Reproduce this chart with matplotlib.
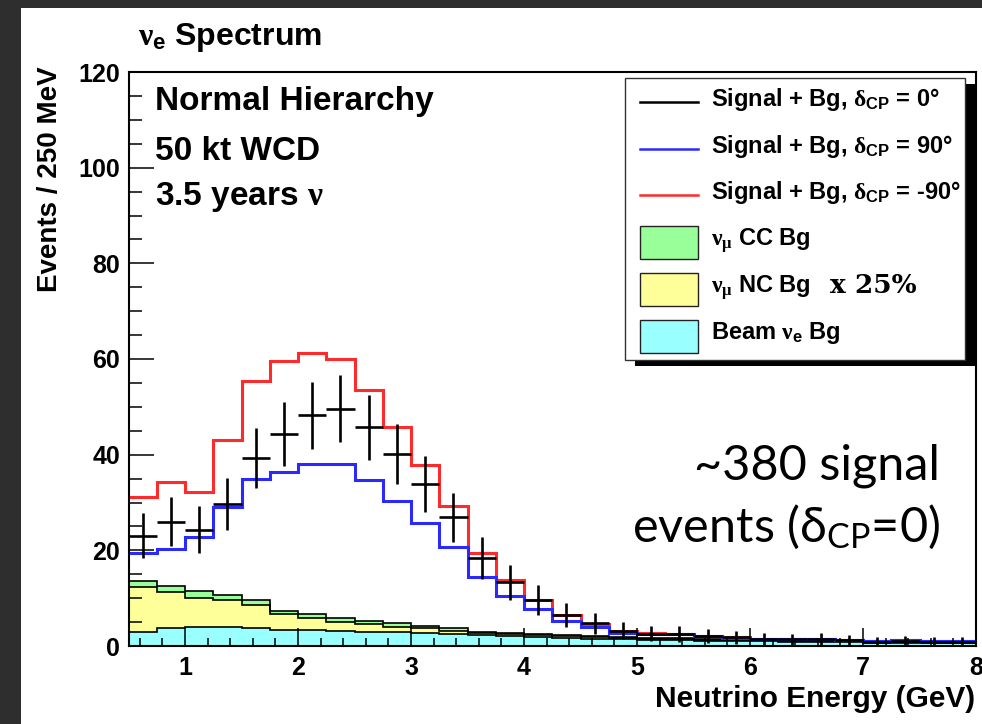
import numpy as np
import matplotlib
matplotlib.use("Agg")
import matplotlib.pyplot as plt
from matplotlib.patches import Rectangle
from matplotlib.ticker import MultipleLocator

plt.rcParams["font.family"] = "Liberation Sans"
plt.rcParams["font.weight"] = "bold"
plt.rcParams["mathtext.fontset"] = "custom"
plt.rcParams["mathtext.it"] = "Liberation Serif"
plt.rcParams["mathtext.rm"] = "Liberation Sans:bold"
plt.rcParams["mathtext.bf"] = "Liberation Sans:bold"
plt.rcParams["mathtext.sf"] = "Liberation Sans:bold"

# 250 MeV bins from 0.5 to 8 GeV
bin_width = 0.25
e_min, e_max = 0.5, 8.0

# Signal + background, delta_CP = 0 (drawn as points with sqrt(N) errors)
sig_dcp0 = [23.1, 26.0, 24.3, 29.7, 39.3, 44.3, 48.2, 49.6, 45.7, 40.1,
            33.9, 26.9, 18.4, 13.3, 9.6, 6.5, 4.8, 3.2, 2.6, 2.5,
            2.1, 1.8, 1.5, 1.4, 1.5, 1.2, 0.9, 1.1, 0.9, 0.9]
# Signal + background, delta_CP = +90
sig_dcp90 = [19.4, 20.2, 22.8, 29.0, 34.9, 36.4, 38.1, 38.0, 34.7, 30.4,
             25.8, 20.6, 14.4, 10.5, 7.7, 5.3, 4.0, 2.8, 2.5, 2.5,
             2.0, 1.7, 1.45, 1.4, 1.4, 1.25, 0.98, 1.2, 1.0, 1.05]
# Signal + background, delta_CP = -90
sig_dcpm90 = [31.1, 34.2, 32.2, 43.0, 55.5, 59.5, 61.3, 59.9, 53.6, 45.7,
              37.8, 29.2, 19.4, 13.8, 9.6, 6.5, 4.5, 3.2, 2.7, 2.6,
              2.1, 1.8, 1.5, 1.45, 1.4, 1.3, 1.0, 1.2, 1.0, 1.05]
# Background components (stacked: beam nu_e, nu_mu NC x25%, nu_mu CC)
beam_nue_bg = [2.9, 3.7, 3.9, 3.9, 3.7, 3.4, 3.3, 3.2, 3.0, 2.9,
               2.8, 2.6, 2.3, 2.1, 1.9, 1.7, 1.5, 1.4, 1.3, 1.2,
               1.1, 1.0, 0.95, 0.9, 0.85, 0.8, 0.65, 0.6, 0.55, 0.55]
numu_nc_bg = [9.5, 7.5, 6.2, 5.7, 4.9, 3.3, 2.6, 1.9, 1.6, 1.1,
              0.9, 0.6, 0.4, 0.4, 0.4, 0.3, 0.3, 0.2, 0.2, 0.2,
              0.2, 0.2, 0.2, 0.2, 0.2, 0.2, 0.2, 0.2, 0.2, 0.2]
numu_cc_bg = [1.2, 1.4, 1.5, 1.1, 1.0, 0.7, 0.8, 0.8, 0.7, 0.75,
              0.55, 0.6, 0.3, 0.2, 0.2, 0.2, 0.2, 0.2, 0.2, 0.2,
              0.2, 0.2, 0.2, 0.2, 0.2, 0.2, 0.15, 0.15, 0.15, 0.15]

x_ticks = [1, 2, 3, 4, 5, 6, 7, 8]
y_ticks = [0, 20, 40, 60, 80, 100, 120]

RED = "#ff2a2a"
BLUE = "#2a2aff"
GREEN = "#99ff99"
YELLOW = "#ffff99"
CYAN = "#99ffff"

W, H = 982, 724


def fx(x):
    return x / W


def fy(y):
    return 1 - y / H


fig = plt.figure(figsize=(W / 100, H / 100), dpi=100)
fig.patch.set_facecolor("#2e2e2e")
fig.patches.append(Rectangle((fx(21), 0), 1 - fx(21), fy(8), transform=fig.transFigure,
                             facecolor="white", edgecolor="none", zorder=-10))

ax = fig.add_axes([fx(128.5), fy(646), fx(976) - fx(128.5), fy(72) - fy(646)])
ax.set_facecolor("white")

edges = np.arange(e_min, e_max + bin_width / 2, bin_width)
centers = 0.5 * (edges[:-1] + edges[1:])

# stacked backgrounds
b1 = np.array(beam_nue_bg)
b2 = b1 + np.array(numu_nc_bg)
b3 = b2 + np.array(numu_cc_bg)
ax.stairs(b3, edges, baseline=b2, fill=True, facecolor=GREEN, edgecolor="none")
ax.stairs(b2, edges, baseline=b1, fill=True, facecolor=YELLOW, edgecolor="none")
ax.stairs(b1, edges, baseline=0, fill=True, facecolor=CYAN, edgecolor="none")
for top in (b1, b2, b3):
    ax.stairs(top, edges, baseline=None, color="black", lw=1.2)

ax.stairs(sig_dcpm90, edges, baseline=None, color=RED, lw=2.2)
ax.stairs(sig_dcp90, edges, baseline=None, color=BLUE, lw=2.2)

d0 = np.array(sig_dcp0)
ax.errorbar(centers, d0, xerr=bin_width / 2, yerr=np.sqrt(d0), fmt="none",
            ecolor="black", elinewidth=1.9, capsize=0, zorder=5)

ax.set_xlim(e_min, e_max)
ax.set_ylim(0, 120)
ax.set_xticks(x_ticks)
ax.set_yticks(y_ticks)
ax.xaxis.set_minor_locator(MultipleLocator(0.2))
ax.yaxis.set_minor_locator(MultipleLocator(5))
ax.tick_params(axis="x", which="major", direction="in", length=13, width=1.1, pad=7,
               labelsize=18, top=False)
ax.tick_params(axis="x", which="minor", direction="in", length=6, width=1.1, top=False)
ax.tick_params(axis="y", which="major", direction="in", length=18, width=1.1, pad=6,
               labelsize=18, right=False)
ax.tick_params(axis="y", which="minor", direction="in", length=9.5, width=1.1, right=False)
for lab in ax.get_xticklabels() + ax.get_yticklabels():
    lab.set_fontweight("bold")
for s in ax.spines.values():
    s.set_linewidth(1.5)
    s.set_zorder(6)

# axis titles
fig.text(fx(975), fy(707), "Neutrino Energy (GeV)", ha="right", va="baseline",
         fontsize=21.5, fontweight="bold")
fig.text(fx(50), fy(179), "Events / 250 MeV", ha="center", va="center", rotation=90,
         fontsize=20, fontweight="bold")

# title
fig.text(fx(138), fy(45), r"$\nu_{\mathregular{e}}$ Spectrum", ha="left", va="baseline",
         fontsize=23, fontweight="bold")

# detector / run description
fig.text(fx(155), fy(110), "Normal Hierarchy", fontsize=24, fontweight="bold", va="baseline")
fig.text(fx(155), fy(160), "50 kt WCD", fontsize=24, fontweight="bold", va="baseline")
fig.text(fx(155), fy(205), r"3.5 years $\nu$", fontsize=24, fontweight="bold", va="baseline")

# signal count annotation
fig.text(fx(940), fy(480), "~380 signal", ha="right", va="baseline", fontsize=35,
         fontweight="normal", family=["Lato", "Open Sans", "DejaVu Sans"])
fig.text(fx(940), fy(542), r"events (δ$_{\mathregular{CP}}$=0)", ha="right", va="baseline",
         fontsize=35, fontweight="normal", family=["Lato", "Open Sans", "DejaVu Sans"])

# legend box with drop shadow
shadow = 7
fig.patches.append(Rectangle((fx(625 + shadow + 3), fy(360 + shadow - 1)),
                             fx(965) - fx(625), fy(78) - fy(360),
                             transform=fig.transFigure, facecolor="black",
                             edgecolor="none", zorder=6))
fig.patches.append(Rectangle((fx(625), fy(360)), fx(965) - fx(625), fy(78) - fy(360),
                             transform=fig.transFigure, facecolor="white",
                             edgecolor="#333333", lw=1.0, zorder=7))

legend_lines = [
    ("black", r"Signal + Bg, $\delta_{\mathregular{CP}}$ = 0°"),
    (BLUE, r"Signal + Bg, $\delta_{\mathregular{CP}}$ = 90°"),
    (RED, r"Signal + Bg, $\delta_{\mathregular{CP}}$ = -90°"),
]
legend_fills = [
    (GREEN, r"$\nu_{\mu}$ CC Bg"),
    (YELLOW, r"$\nu_{\mu}$ NC Bg"),
    (CYAN, r"Beam $\nu_{\mathregular{e}}$ Bg"),
]
baselines = [106, 152.7, 199.3, 246, 292.7, 339.3]
fs_leg = 17
for i, (c, label) in enumerate(legend_lines):
    yb = baselines[i]
    fig.lines.append(plt.Line2D([fx(640), fx(698)], [fy(yb - 4), fy(yb - 4)],
                                transform=fig.transFigure, color=c, lw=1.8, zorder=8))
    fig.text(fx(711), fy(yb), label, fontsize=fs_leg, fontweight="bold", va="baseline",
             zorder=8)
for j, (c, label) in enumerate(legend_fills):
    yb = baselines[3 + j]
    fig.patches.append(Rectangle((fx(640), fy(yb + 13.5)), fx(698) - fx(640),
                                 fy(yb - 19.5) - fy(yb + 13.5), transform=fig.transFigure,
                                 facecolor=c, edgecolor="#222222", lw=1.0, zorder=8))
    fig.text(fx(711), fy(yb), label, fontsize=fs_leg, fontweight="bold", va="baseline",
             zorder=8)
fig.text(fx(830), fy(292.7), "x 25%", fontsize=19, fontweight="bold",
         family="DejaVu Serif", va="baseline", zorder=8)

fig.savefig("out.png", dpi=100, facecolor=fig.get_facecolor())
